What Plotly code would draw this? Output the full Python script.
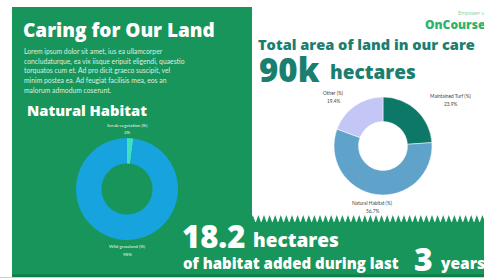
import plotly.graph_objects as go

W, H = 484, 279

# ---- data ----
habitat_labels = ["Scrub vegetation", "Wild grassland"]
habitat_values = [2, 98]
habitat_colors = ["#3fe0c4", "#17a3dd"]

land_labels = ["Maintained Turf", "Natural Habitat", "Other"]
land_values = [23.9, 56.7, 19.4]
land_colors = ["#0e7868", "#5fa3ca", "#c4c7f6"]

total_area = "90k"
habitat_added = "18.2"
years = "3"

GREEN = "#17955a"
TEAL = "#1b7f6f"
HEAD = "Open Sans"


def px(x):
    return x / W


def py(y):
    return 1 - y / H


fig = go.Figure()

fig.add_trace(go.Pie(
    labels=habitat_labels, values=habitat_values, hole=0.5, sort=False,
    direction="clockwise", rotation=0,
    marker=dict(colors=habitat_colors, line=dict(width=0)),
    textinfo="none", hoverinfo="label+percent", showlegend=False,
    domain=dict(x=[px(76), px(178)], y=[py(240), py(138)]),
))
fig.add_trace(go.Pie(
    labels=land_labels, values=land_values, hole=0.5, sort=False,
    direction="clockwise", rotation=0,
    marker=dict(colors=land_colors, line=dict(width=0.5, color="white")),
    textinfo="none", hoverinfo="label+percent", showlegend=False,
    domain=dict(x=[px(334), px(432)], y=[py(195), py(97)]),
))

shapes = []
shapes.append(dict(type="rect", xref="paper", yref="paper", x0=px(12), x1=px(252),
                   y0=py(276), y1=py(7), fillcolor=GREEN, line=dict(width=0), layer="below"))
shapes.append(dict(type="rect", xref="paper", yref="paper", x0=px(250), x1=px(484),
                   y0=py(276), y1=py(222), fillcolor=GREEN, line=dict(width=0), layer="below"))
path = f"M {px(250)},{py(223)}"
x = 250.0
step = 5.6
while x < 484:
    path += f" L {px(x + step / 2)},{py(215)} L {px(x + step)},{py(223)}"
    x += step
path += f" L {px(484)},{py(223)} Z"
shapes.append(dict(type="path", xref="paper", yref="paper", path=path,
                   fillcolor=GREEN, line=dict(width=0), layer="below"))
shapes.append(dict(type="rect", xref="paper", yref="paper", x0=px(12), x1=px(484),
                   y0=py(277), y1=py(274.5), fillcolor="#0f7d48", line=dict(width=0), layer="below"))
shapes.append(dict(type="line", xref="paper", yref="paper", x0=0, x1=1,
                   y0=py(277.5), y1=py(277.5), line=dict(color="#cfcfcf", width=1), layer="below"))

ann = []


def text(x, y, s, size, color, xanchor="left", family=HEAD, weight="bold", yanchor="middle"):
    ann.append(dict(xref="paper", yref="paper", x=px(x), y=py(y), text=s, showarrow=False,
                    xanchor=xanchor, yanchor=yanchor, borderpad=0,
                    font=dict(family=family, size=size, color=color, weight=weight)))


text(22, 30, "Caring for Our Land", 19, "white", weight=800)
lorem = ["Lorem ipsum dolor sit amet, ius ea ullamcorper",
         "concludaturque, ea vix iisque eripuit eligendi, quaestio",
         "torquatos cum et. Ad pro dicit graeco suscipit, vel",
         "minim postea ea. Ad feugiat facilisis mea, eos an",
         "malorum admodum coserunt."]
for i, line in enumerate(lorem):
    text(23, 52 + i * 9.4, line, 6.8, "#d9efe3", family="Lato", weight="normal")
text(26, 110, "Natural Habitat", 14.7, "white", weight=800)

text(127, 125, f"{habitat_labels[0]} (%)", 4.5, "#e8f5ee", xanchor="center", weight="normal", family="Lato")
text(127, 133, f"{habitat_values[0]}%", 4.5, "#e8f5ee", xanchor="center", weight="normal", family="Lato")
text(127, 246, f"{habitat_labels[1]} (%)", 4.5, "#e8f5ee", xanchor="center", weight="normal", family="Lato")
text(127, 254, f"{habitat_values[1]}%", 4.5, "#e8f5ee", xanchor="center", weight="normal", family="Lato")

text(486, 13, "Empower u", 5, "#7fcf9f", xanchor="right", weight="normal")
text(486, 24, "OnCourse", 12, "#2db36b", xanchor="right", weight=800)
text(257, 44, "Total area of land in our care", 14.6, TEAL, weight=800)
text(258, 70, total_area, 33, TEAL, weight=800)
text(329, 72, "hectares", 19, TEAL, weight=800)

lpos = [(450, 96), (372, 203), (333, 93)]
for (lx, ly), lab, val in zip(lpos, land_labels, land_values):
    text(lx, ly, f"{lab} (%)", 4.8, "#444444", xanchor="center", weight="normal", family="Lato")
    text(lx, ly + 7.5, f"{val}%", 4.8, "#444444", xanchor="center", weight="normal", family="Lato")

text(181, 236, habitat_added, 31, "white", weight=800)
text(252, 240, "hectares", 19, "white", weight=800)
text(182, 263, "of habitat added during last", 15, "white", weight=800)
text(413, 258, years, 32, "white", weight=800)
text(439, 263, "years", 15.5, "white", weight=800)

fig.update_layout(width=W, height=H, margin=dict(l=0, r=0, t=0, b=0),
                  paper_bgcolor="white", plot_bgcolor="white",
                  shapes=shapes, annotations=ann, showlegend=False)

fig.write_html("out.html", config={"displayModeBar": False},
               post_script="document.body.style.margin='0';document.body.style.overflow='hidden';")
